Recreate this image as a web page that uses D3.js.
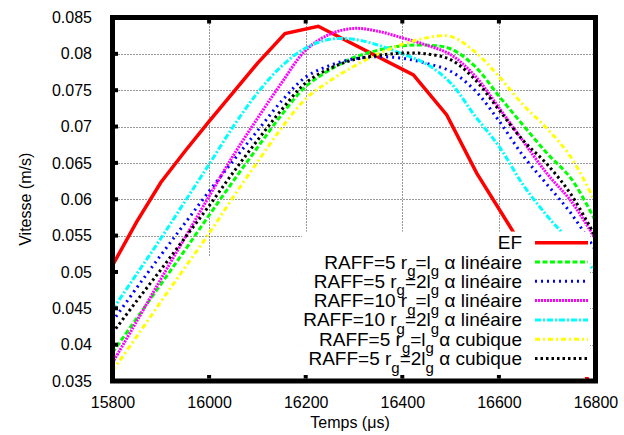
<!DOCTYPE html>
<html>
<head>
<meta charset="utf-8">
<script src="https://cdn.jsdelivr.net/npm/d3@7"></script>
<style>
  html, body { margin: 0; padding: 0; background: #fff; }
  svg { display: block; font-family: "Liberation Sans", Arial, Helvetica, sans-serif; }
</style>
</head>
<body>
<svg id="chart" width="624" height="435"></svg>
<script>
// ---------------- data ----------------
const times = [15800, 15850, 15900, 15950, 16000, 16050, 16100, 16150, 16200, 16250, 16300,
               16350, 16400, 16450, 16500, 16550, 16600, 16650, 16700, 16750, 16800];

const efTimes  = [15800, 15850, 15900, 15950, 16000, 16050, 16100, 16157, 16226, 16423, 16492, 16554, 16629, 16700, 16800];
const efValues = [0.0509, 0.0569, 0.0623, 0.0666, 0.0707, 0.0747, 0.0787, 0.0828, 0.0838, 0.0771, 0.0716, 0.0636, 0.0556, 0.0463, 0.0331];

const raff5LinLg   = [0.0389, 0.0436, 0.0483, 0.0530, 0.0578, 0.0625, 0.0671, 0.0716, 0.0755, 0.0778, 0.0795,
                      0.0805, 0.0811, 0.0812, 0.0807, 0.0783, 0.0742, 0.0702, 0.0663, 0.0628, 0.0570];
const raff5Lin2Lg  = [0.0432, 0.0478, 0.0523, 0.0567, 0.0611, 0.0653, 0.0694, 0.0735, 0.0768, 0.0784, 0.0793,
                      0.0796, 0.0794, 0.0787, 0.0776, 0.0750, 0.0708, 0.0660, 0.0620, 0.0580, 0.0530];
const raff10LinLg  = [0.0375, 0.0432, 0.0490, 0.0547, 0.0604, 0.0660, 0.0711, 0.0760, 0.0805, 0.0827, 0.0835,
                      0.0831, 0.0822, 0.0812, 0.0799, 0.0770, 0.0726, 0.0680, 0.0635, 0.0597, 0.0545];
const raff10Lin2Lg = [0.0448, 0.0497, 0.0546, 0.0597, 0.0648, 0.0700, 0.0746, 0.0783, 0.0808, 0.0820, 0.0820,
                      0.0812, 0.0800, 0.0786, 0.0760, 0.0715, 0.0673, 0.0620, 0.0577, 0.0540, 0.0500];
const raff5CubLg   = [0.0364, 0.0411, 0.0459, 0.0506, 0.0553, 0.0603, 0.0651, 0.0698, 0.0738, 0.0763, 0.0783,
                      0.0800, 0.0813, 0.0822, 0.0824, 0.0803, 0.0769, 0.0730, 0.0697, 0.0657, 0.0595];
const raff5Cub2Lg  = [0.0416, 0.0460, 0.0503, 0.0547, 0.0591, 0.0637, 0.0681, 0.0723, 0.0760, 0.0780, 0.0792,
                      0.0798, 0.0801, 0.0800, 0.0792, 0.0765, 0.0723, 0.0681, 0.0648, 0.0606, 0.0548];

const seriesLabels = [
  "EF",
  "RAFF=5 r_g=l_g α linéaire",
  "RAFF=5 r_g=2l_g α linéaire",
  "RAFF=10 r_g=l_g α linéaire",
  "RAFF=10 r_g=2l_g α linéaire",
  "RAFF=5 r_g=l_g α cubique",
  "RAFF=5 r_g=2l_g α cubique"
];
const seriesColors = ["#ff0000", "#00ff00", "#0000ff", "#ff00ff", "#00ffff", "#ffff00", "#000000"];
const seriesDash   = [null, "5,2.5", "2,4", "2,1", "6,2,2,2", "5,3,2,3", "2.5,3"];

const xTicks = [15800, 16000, 16200, 16400, 16600, 16800];
const yTicks = [0.035, 0.04, 0.045, 0.05, 0.055, 0.06, 0.065, 0.07, 0.075, 0.08, 0.085];
const xLabel = "Temps (μs)";
const yLabel = "Vitesse (m/s)";

// ---------------- layout ----------------
const svg = d3.select("#chart");
const X0 = 112.5, X1 = 595.5, Y0 = 17.5, Y1 = 381;
const x = d3.scaleLinear().domain([15800, 16800]).range([X0, X1]);
const y = d3.scaleLinear().domain([0.035, 0.085]).range([Y1, Y0]);

svg.append("defs").append("clipPath").attr("id", "plotClip")
  .append("rect").attr("x", X0).attr("y", Y0).attr("width", X1 - X0).attr("height", Y1 - Y0);

// grid
const grid = svg.append("g").attr("stroke", "#333").attr("stroke-width", 1).attr("stroke-dasharray", "1,2");
grid.selectAll("line.gx").data(xTicks.slice(1, -1)).join("line").attr("class", "gx")
  .attr("x1", d => Math.round(x(d)) + 0.5).attr("x2", d => Math.round(x(d)) + 0.5)
  .attr("y1", Y0).attr("y2", Y1);
grid.selectAll("line.gy").data(yTicks.slice(1, -1)).join("line").attr("class", "gy")
  .attr("x1", X0).attr("x2", X1)
  .attr("y1", d => Math.round(y(d)) + 0.5).attr("y2", d => Math.round(y(d)) + 0.5);

// white area where the grid is absent in the original (lower left)
svg.append("rect").attr("x", X0).attr("y", y(0.0522)).attr("width", x(16192) - X0).attr("height", Y1 - y(0.0522))
  .attr("fill", "#fff");

// curves (EF first, the others on top of it)
const plot = svg.append("g").attr("clip-path", "url(#plotClip)");
const lineEF = d3.line().x(d => x(d[0])).y(d => y(d[1]));
plot.append("path")
  .datum(efTimes.map((t, j) => [t, efValues[j]]))
  .attr("d", lineEF)
  .attr("fill", "none")
  .attr("stroke", seriesColors[0])
  .attr("stroke-width", 3.5);

const smoothSeries = [raff5LinLg, raff5Lin2Lg, raff10LinLg, raff10Lin2Lg, raff5CubLg, raff5Cub2Lg];
const lineSmooth = d3.line().x(d => x(d[0])).y(d => y(d[1])).curve(d3.curveCatmullRom.alpha(0.5));
smoothSeries.forEach((vals, i) => {
  const k = i + 1;
  plot.append("path")
    .datum(times.map((t, j) => [t, vals[j]]))
    .attr("d", lineSmooth)
    .attr("fill", "none")
    .attr("stroke", seriesColors[k])
    .attr("stroke-width", 3)
    .attr("stroke-dasharray", seriesDash[k]);
});

// key (opaque)
const keyTop = y(0.05555), keyLeft = x(16192), keyRight = 590, keyBottom = 377;
svg.append("rect").attr("x", keyLeft).attr("y", keyTop).attr("width", keyRight - keyLeft)
  .attr("height", keyBottom - keyTop).attr("fill", "#fff");

const key = svg.append("g");
const rowH = 19.3, row0 = 242.7, textRight = 522, sx0 = 535, sx1 = 588;
seriesLabels.forEach((lab, i) => {
  const cy = row0 + i * rowH;
  const t = key.append("text")
    .attr("x", textRight).attr("y", cy + 6.5)
    .attr("text-anchor", "end")
    .attr("font-size", 19)
    .attr("fill", "#000");
  const parts = lab.split(/(_g)/);
  let shifted = false;
  parts.forEach(p => {
    if (p === "") return;
    if (p === "_g") {
      t.append("tspan").attr("font-size", 15).attr("dy", 7.5).text("g");
      shifted = true;
    } else {
      const ts = t.append("tspan").text(p);
      if (shifted) { ts.attr("dy", -7.5); shifted = false; }
    }
  });
  key.append("line")
    .attr("x1", sx0).attr("x2", sx1).attr("y1", cy).attr("y2", cy)
    .attr("stroke", seriesColors[i])
    .attr("stroke-width", i === 0 ? 3.5 : 3)
    .attr("stroke-dasharray", seriesDash[i]);
});

// axes: tick labels from d3 axes
const fmtY = d => String(+d.toFixed(3));
const axB = svg.append("g").attr("transform", `translate(0,${Y1})`)
  .call(d3.axisBottom(x).tickValues(xTicks).tickFormat(d3.format("d")).tickSize(0).tickPadding(16));
const axL = svg.append("g").attr("transform", `translate(${X0},0)`)
  .call(d3.axisLeft(y).tickValues(yTicks).tickFormat(fmtY).tickSize(0).tickPadding(20.5));
[axB, axL].forEach(a => {
  a.select(".domain").remove();
  a.selectAll(".tick line").remove();
  a.selectAll(".tick text").attr("font-size", 16).attr("fill", "#000")
    .attr("font-family", "Liberation Sans, Arial, sans-serif");
});

// frame: filled ring (outer minus inner), 5px thick
const fw = 2.5;
const ring = `M${X0 - fw},${Y0 - fw}H${X1 + fw}V${Y1 + fw}H${X0 - fw}Z` +
             `M${X0 + fw},${Y0 + fw}V${Y1 - fw}H${X1 - fw}V${Y0 + fw}Z`;
svg.append("path").attr("d", ring).attr("fill", "#000").attr("fill-rule", "evenodd");

// inward tick nubs (bottom, top, left)
const nub = svg.append("g").attr("fill", "#000");
xTicks.slice(1, -1).forEach(v => {
  nub.append("rect").attr("x", x(v) - 2).attr("y", Y1 - fw - 3.5).attr("width", 4).attr("height", 3.5);
  nub.append("rect").attr("x", x(v) - 2).attr("y", Y0 + fw).attr("width", 4).attr("height", 3.5);
});
yTicks.slice(1, -1).forEach(v => {
  nub.append("rect").attr("x", X0 + fw).attr("y", y(v) - 2).attr("width", 3).attr("height", 4);
});

// axis titles
svg.append("text").attr("x", 350).attr("y", 428).attr("text-anchor", "middle")
  .attr("font-size", 16).attr("fill", "#000").text(xLabel);
svg.append("text").attr("transform", `translate(31,${(Y0 + Y1) / 2}) rotate(-90)`)
  .attr("text-anchor", "middle").attr("font-size", 16).attr("fill", "#000").text(yLabel);
</script>
</body>
</html>
